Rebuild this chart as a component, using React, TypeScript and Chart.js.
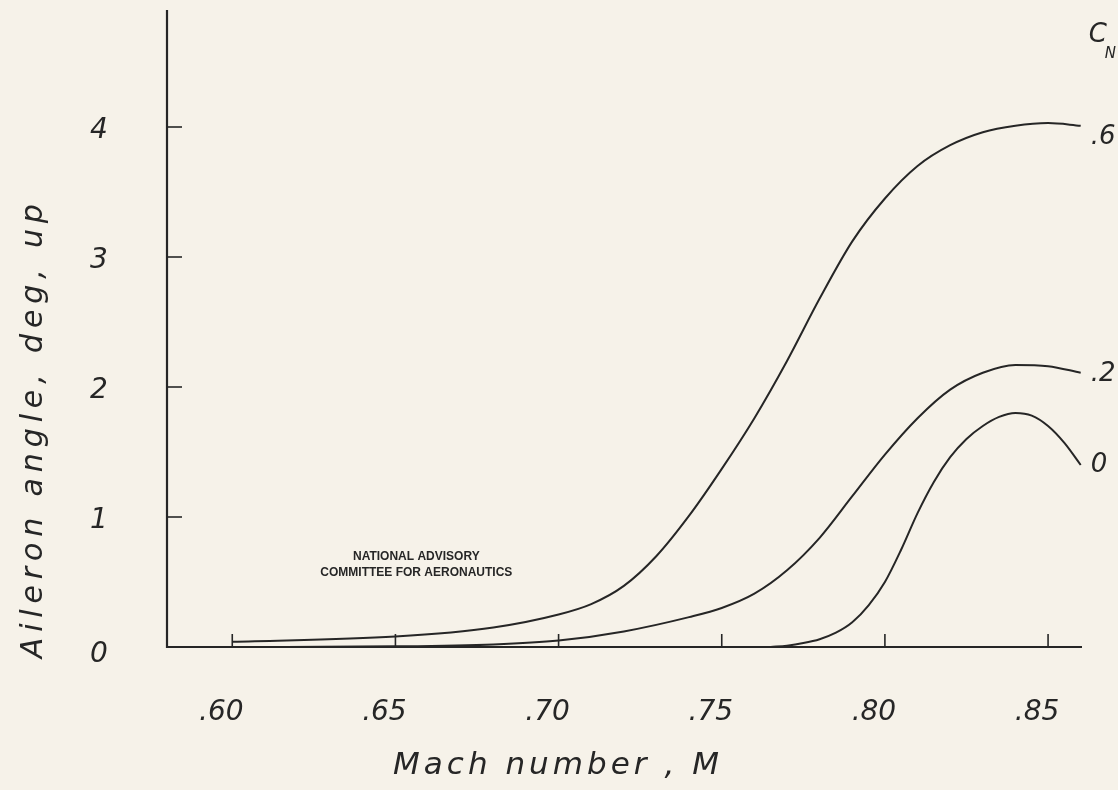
import React, { useEffect, useRef } from 'react';
import { Chart, registerables } from 'chart.js';

Chart.register(...registerables);

// ---- Data ----
const machCn06 = [0.600, 0.650, 0.680, 0.700, 0.710, 0.720, 0.730, 0.740, 0.750, 0.760, 0.770, 0.780, 0.790, 0.800, 0.810, 0.820, 0.830, 0.840, 0.850, 0.860];
const angleCn06 = [0.04, 0.08, 0.15, 0.25, 0.33, 0.47, 0.70, 1.01, 1.37, 1.76, 2.20, 2.68, 3.12, 3.45, 3.70, 3.86, 3.96, 4.01, 4.03, 4.01];

const machCn02 = [0.600, 0.650, 0.680, 0.700, 0.720, 0.740, 0.750, 0.760, 0.770, 0.780, 0.790, 0.800, 0.810, 0.820, 0.830, 0.840, 0.850, 0.860];
const angleCn02 = [0.00, 0.005, 0.02, 0.05, 0.12, 0.23, 0.30, 0.41, 0.59, 0.84, 1.16, 1.48, 1.76, 1.98, 2.11, 2.17, 2.16, 2.11];

const machCn0 = [0.765, 0.770, 0.775, 0.780, 0.785, 0.790, 0.795, 0.800, 0.805, 0.810, 0.815, 0.820, 0.825, 0.830, 0.835, 0.840, 0.845, 0.850, 0.855, 0.860];
const angleCn0 = [0.00, 0.01, 0.03, 0.06, 0.11, 0.19, 0.32, 0.50, 0.75, 1.03, 1.27, 1.46, 1.60, 1.70, 1.77, 1.80, 1.78, 1.70, 1.57, 1.40];

const seriesLabels = ['.6', '.2', '0'];
const legendTitle = 'C';
const legendSubscript = 'N';

const xTickValues = [0.60, 0.65, 0.70, 0.75, 0.80, 0.85];
const xTickLabels = ['.60', '.65', '.70', '.75', '.80', '.85'];
const yTickValues = [0, 1, 2, 3, 4];
const yTickLabels = ['0', '1', '2', '3', '4'];

const xTitle = 'Mach number , M';
const yTitle = 'Aileron angle, deg, up';
const stampLines = ['NATIONAL ADVISORY', 'COMMITTEE FOR AERONAUTICS'];

const xRange = [0.58, 0.8604];
const yRange = [0, 4.9];

// ---- Styles ----
const INK = '#262626';
const PAPER = '#f6f2e9';
const HAND = "'DejaVu Sans', 'Liberation Sans', sans-serif";
const labelDy = [12, 2, 0];

function spacedText(ctx: CanvasRenderingContext2D, text: string, x: number, y: number, target: number) {
  const c: any = ctx;
  c.letterSpacing = '0px';
  const w = ctx.measureText(text).width;
  const n = text.length;
  const ls = Math.max(0, (target - w) / n);
  c.letterSpacing = ls + 'px';
  ctx.fillText(text, x + ls / 2, y);
  c.letterSpacing = '0px';
}

const drawPlugin = {
  id: 'nacaAxes',
  beforeDraw(chart: any) {
    const { ctx, width, height } = chart;
    ctx.save();
    ctx.fillStyle = PAPER;
    ctx.fillRect(0, 0, width, height);
    ctx.restore();
  },
  afterDraw(chart: any) {
    const { ctx, chartArea } = chart;
    const xs = chart.scales.x;
    const ys = chart.scales.y;
    const { left, right, top, bottom } = chartArea;
    ctx.save();
    ctx.strokeStyle = INK;
    ctx.fillStyle = INK;
    ctx.lineCap = 'butt';

    // axes
    ctx.lineWidth = 2.2;
    ctx.beginPath();
    ctx.moveTo(left, top);
    ctx.lineTo(left, bottom);
    ctx.lineTo(right, bottom);
    ctx.stroke();

    // inward ticks
    ctx.lineWidth = 1.6;
    xTickValues.forEach((v) => {
      const px = xs.getPixelForValue(v);
      ctx.beginPath();
      ctx.moveTo(px, bottom);
      ctx.lineTo(px, bottom - 13);
      ctx.stroke();
    });
    yTickValues.forEach((v) => {
      if (v === 0) return;
      const py = ys.getPixelForValue(v);
      ctx.beginPath();
      ctx.moveTo(left, py);
      ctx.lineTo(left + 15, py);
      ctx.stroke();
    });

    // tick labels
    ctx.textAlign = 'center';
    ctx.textBaseline = 'middle';
    ctx.font = `italic 200 28px ${HAND}`;
    xTickValues.forEach((v, i) => {
      const px = xs.getPixelForValue(v);
      ctx.fillText(xTickLabels[i], px - 11, bottom + 66);
    });
    yTickValues.forEach((v, i) => {
      const py = ys.getPixelForValue(v);
      ctx.fillText(yTickLabels[i], left - 68, py + (v === 0 ? 8 : 4));
    });

    // axis titles
    ctx.font = `italic 200 31px ${HAND}`;
    spacedText(ctx, xTitle, left + 389, bottom + 119, 330);
    ctx.save();
    ctx.translate(34, ys.getPixelForValue(1.66));
    ctx.rotate(-Math.PI / 2);
    ctx.font = `italic 200 30px ${HAND}`;
    spacedText(ctx, yTitle, 0, 0, 460);
    ctx.restore();

    // NACA stamp
    ctx.font = "bold 12px 'Liberation Sans', Arial, sans-serif";
    const sx = xs.getPixelForValue(0.6564);
    ctx.fillText(stampLines[0], sx, ys.getPixelForValue(0.695));
    ctx.fillText(stampLines[1], sx, ys.getPixelForValue(0.57));

    // series labels at curve ends
    ctx.textAlign = 'left';
    chart.data.datasets.forEach((ds: any, i: number) => {
      const last = ds.data[ds.data.length - 1];
      const px = xs.getPixelForValue(last.x);
      const py = ys.getPixelForValue(last.y);
      ctx.font = `italic 200 26px ${HAND}`;
      ctx.fillText(seriesLabels[i], px + 10, py + labelDy[i]);
      if (i === 0) {
        ctx.fillText(legendTitle, px + 8, py - 90);
        ctx.font = `italic 200 15px ${HAND}`;
        ctx.fillText(legendSubscript, px + 24, py - 72);
      }
    });
    ctx.restore();
  },
};

function points(xs: number[], ys: number[]) {
  return xs.map((x, i) => ({ x, y: ys[i] }));
}

export default function App() {
  const canvasRef = useRef<HTMLCanvasElement | null>(null);

  useEffect(() => {
    if (!canvasRef.current) return;
    const common = {
      borderColor: INK,
      borderWidth: 2,
      pointRadius: 0,
      fill: false,
      cubicInterpolationMode: 'monotone' as const,
    };
    const chart = new Chart(canvasRef.current, {
      type: 'line',
      data: {
        datasets: [
          { label: 'CN .6', data: points(machCn06, angleCn06), ...common },
          { label: 'CN .2', data: points(machCn02, angleCn02), ...common },
          { label: 'CN 0', data: points(machCn0, angleCn0), ...common },
        ],
      },
      options: {
        animation: false,
        responsive: false,
        devicePixelRatio: 1,
        layout: { padding: { left: 167, right: 36, top: 10, bottom: 143 } },
        plugins: { legend: { display: false }, tooltip: { enabled: false } },
        scales: {
          x: { type: 'linear', min: xRange[0], max: xRange[1], display: false },
          y: { type: 'linear', min: yRange[0], max: yRange[1], display: false },
        },
      },
      plugins: [drawPlugin],
    });
    return () => chart.destroy();
  }, []);

  return (
    <div style={{ position: 'fixed', left: 0, top: 0, width: 1118, height: 790, background: PAPER }}>
      <canvas ref={canvasRef} width={1118} height={790} style={{ display: 'block' }} />
    </div>
  );
}
